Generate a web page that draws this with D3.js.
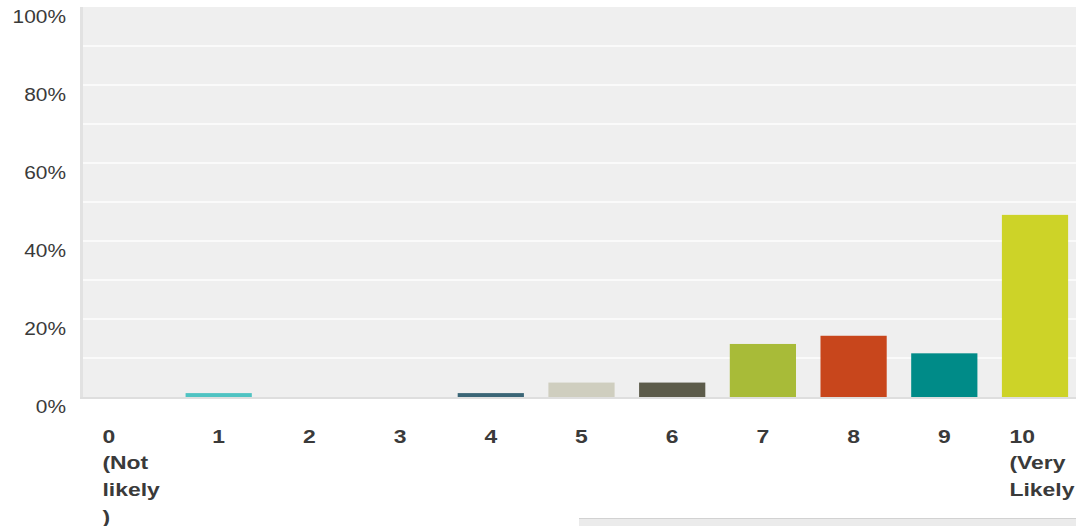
<!DOCTYPE html>
<html>
<head>
<meta charset="utf-8">
<script src="https://cdn.jsdelivr.net/npm/d3@7"></script>
<style>
  html, body { margin: 0; padding: 0; background: #ffffff; }
  svg { display: block; }
</style>
</head>
<body>
<svg id="chart" width="1076" height="526"></svg>
<script>
// ---- data ----
const categories = ["0", "1", "2", "3", "4", "5", "6", "7", "8", "9", "10"];
const categoryLabels = [
  ["0", "(Not", "likely", ")"],
  ["1"], ["2"], ["3"], ["4"], ["5"], ["6"], ["7"], ["8"], ["9"],
  ["10", "(Very", "Likely"]
];
const percentValues = [0, 1.0, 0, 0, 1.0, 3.7, 3.7, 13.6, 15.7, 11.2, 46.7];
const barColors = ["#4fc3c2", "#4fc3c2", "#4fc3c2", "#4fc3c2", "#3a6576", "#cfcebf",
                   "#5c5b4a", "#a8bb38", "#c8461c", "#008b88", "#cdd328"];
const yTickValues = [0, 20, 40, 60, 80, 100];
const yTickLabels = ["0%", "20%", "40%", "60%", "80%", "100%"];
const gridValues = [10, 20, 30, 40, 50, 60, 70, 80, 90];

// ---- layout ----
const W = 1076, H = 526;
const plotLeft = 80, plotRight = 1076, plotTop = 7, plotBottom = 397;

const svg = d3.select("#chart");

const x = d3.scaleBand()
  .domain(categories)
  .range([82.65, 1080.35])
  .paddingInner(0.27)
  .paddingOuter(0.135);

const y = d3.scaleLinear()
  .domain([0, 100])
  .range([plotBottom, plotTop]);

// plot background
svg.append("rect")
  .attr("x", plotLeft).attr("y", plotTop)
  .attr("width", plotRight - plotLeft).attr("height", plotBottom - plotTop)
  .attr("fill", "#efefef");

// gridlines
svg.append("g").selectAll("line")
  .data(gridValues)
  .join("line")
  .attr("x1", plotLeft + 3).attr("x2", plotRight)
  .attr("y1", d => y(d)).attr("y2", d => y(d))
  .attr("stroke", "#fafafa")
  .attr("stroke-width", 2);

// left border
svg.append("rect")
  .attr("x", plotLeft).attr("y", plotTop)
  .attr("width", 3).attr("height", plotBottom - plotTop + 2)
  .attr("fill", "#e2e2e2");

// bottom border
svg.append("rect")
  .attr("x", plotLeft).attr("y", plotBottom)
  .attr("width", plotRight - plotLeft).attr("height", 2)
  .attr("fill", "#dedede");

// bars
svg.append("g").selectAll("rect")
  .data(categories.map((c, i) => ({ c, v: percentValues[i], col: barColors[i] })))
  .join("rect")
  .attr("x", d => x(d.c))
  .attr("width", x.bandwidth())
  .attr("y", d => y(d.v))
  .attr("height", d => y(0) - y(d.v))
  .attr("fill", d => d.col);

// y axis
const yAxis = svg.append("g")
  .attr("transform", "translate(66,0)")
  .call(d3.axisLeft(y)
    .tickValues(yTickValues)
    .tickFormat((d, i) => yTickLabels[i])
    .tickSize(0)
    .tickPadding(0));
yAxis.select(".domain").remove();
yAxis.selectAll("text")
  .attr("x", 0)
  .attr("dy", null)
  .attr("y", 15)
  .attr("transform", "scale(1.16,1)")
  .attr("text-anchor", "end")
  .attr("font-family", "'Liberation Sans', Arial, sans-serif")
  .attr("font-size", 18)
  .attr("fill", "#3a3a3a");

// x axis
const xAxis = svg.append("g")
  .attr("transform", `translate(0,${plotBottom})`)
  .call(d3.axisBottom(x).tickSize(0).tickFormat(""));
xAxis.select(".domain").remove();

const labelScale = 1.24;
const lineH = 27;
xAxis.selectAll(".tick").each(function (d, i) {
  const lines = categoryLabels[i];
  const g = d3.select(this);
  g.selectAll("text").remove();
  const multi = lines.length > 1;
  // tick group is at band center
  const offsetX = multi ? (x(d) + 7.5) - (x(d) + x.bandwidth() / 2) : 0;
  const t = g.append("text")
    .attr("transform", `translate(${offsetX},45.5) scale(${labelScale},1)`)
    .attr("text-anchor", multi ? "start" : "middle")
    .attr("font-family", "'Liberation Sans', Arial, sans-serif")
    .attr("font-weight", "bold")
    .attr("font-size", 18.5)
    .attr("fill", "#3a3a3a");
  lines.forEach((ln, k) => {
    t.append("tspan").attr("x", 0).attr("y", k * lineH).text(ln);
  });
});

// bottom panel edge (part of page beneath chart)
svg.append("rect")
  .attr("x", 579).attr("y", 518)
  .attr("width", W - 579).attr("height", 8)
  .attr("fill", "#ebebeb");
svg.append("line")
  .attr("x1", 579).attr("x2", W)
  .attr("y1", 518.5).attr("y2", 518.5)
  .attr("stroke", "#d2d2d2").attr("stroke-width", 1);
</script>
</body>
</html>
